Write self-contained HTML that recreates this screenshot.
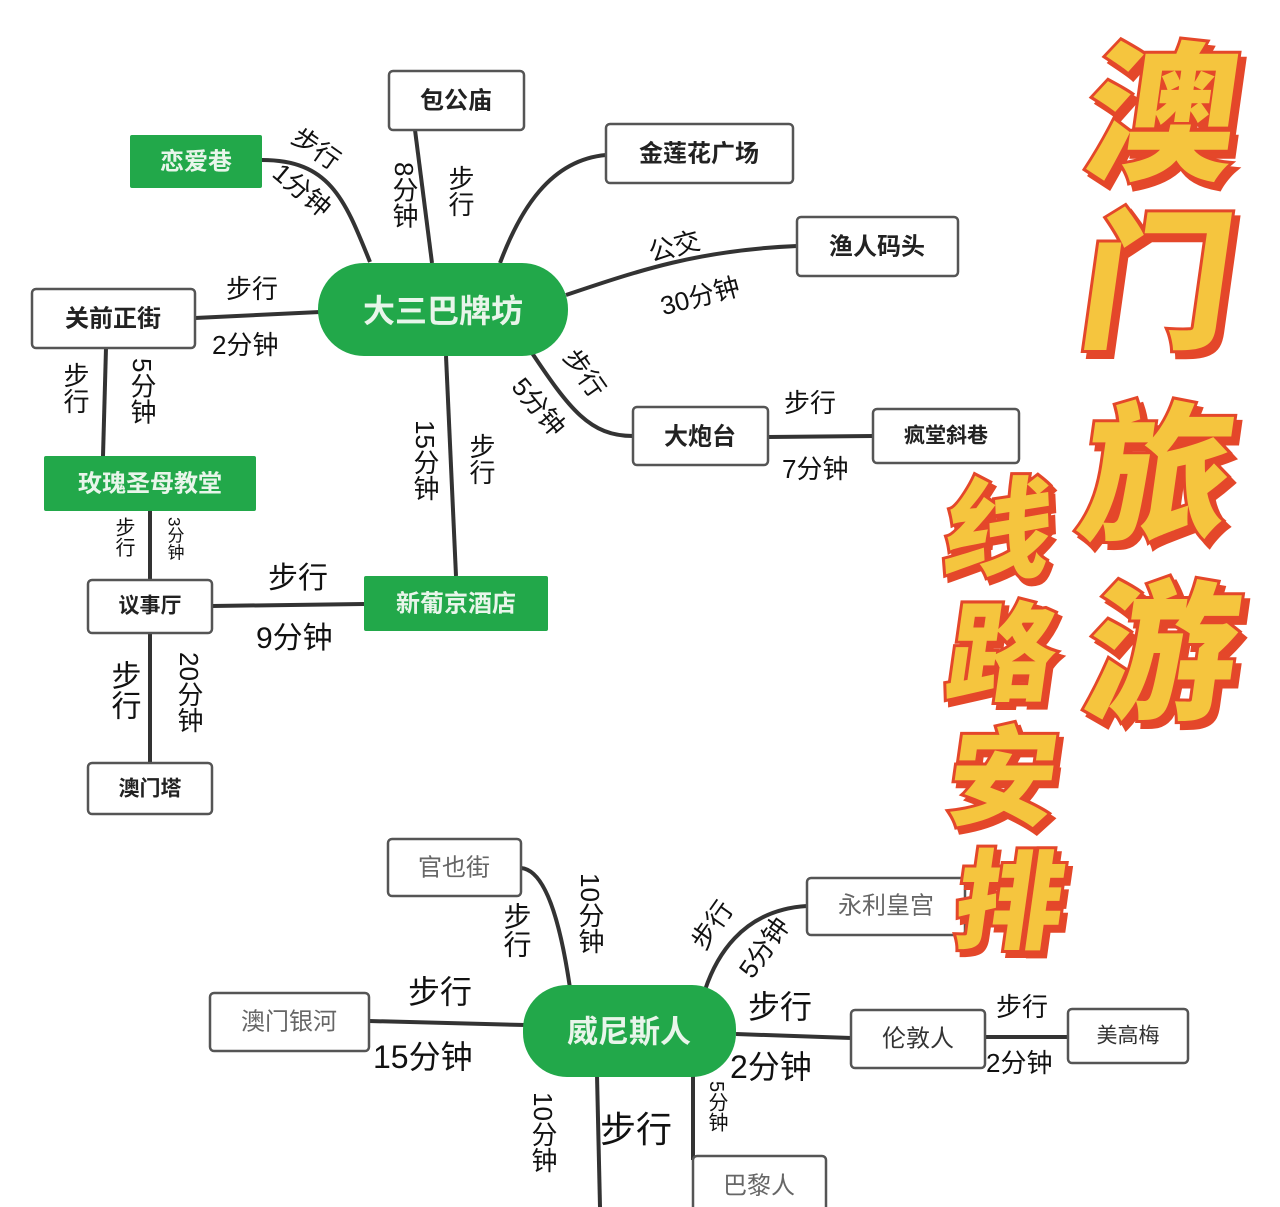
<!DOCTYPE html>
<html><head><meta charset="utf-8"><style>
html,body{margin:0;padding:0;background:#fff}
svg{display:block}
text{font-family:"Liberation Sans","Noto Sans CJK SC",sans-serif}
.b{fill:#fff;stroke:#555;stroke-width:2.5}
.g{fill:#22a84a}
.l{stroke:#333;stroke-width:4;fill:none}
.t{font-size:26px;fill:#111}
.n{font-size:24px;font-weight:bold;fill:#222;text-anchor:middle;dominant-baseline:central}
.w{font-size:24px;font-weight:bold;fill:#e8f5ea;text-anchor:middle;dominant-baseline:central}
.m{font-size:24px;fill:#666;text-anchor:middle;dominant-baseline:central}
.v{writing-mode:vertical-rl}
.big{font-weight:900;fill:#f5c53e;stroke:#e4472a;stroke-width:6;paint-order:stroke;text-anchor:middle}
.sh{font-weight:900;fill:#e4472a;stroke:#e4472a;stroke-width:6;text-anchor:middle}
</style></head><body>
<svg width="1280" height="1207" viewBox="0 0 1280 1207">
<!-- lines top -->
<path class="l" d="M262 160 C330 160 345 200 370 262"/>
<path class="l" d="M415 130 L432 263"/>
<path class="l" d="M606 155 C550 160 520 210 500 263"/>
<path class="l" d="M797 246 C700 250 640 270 566 295"/>
<path class="l" d="M195 318 L320 312"/>
<path class="l" d="M530 350 C570 410 590 436 633 436"/>
<path class="l" d="M768 437 L873 436"/>
<path class="l" d="M446 356 L456 576"/>
<path class="l" d="M106 348 L103 456"/>
<path class="l" d="M150 511 L150 580"/>
<path class="l" d="M212 606 L364 604"/>
<path class="l" d="M150 633 L150 763"/>
<!-- lines bottom -->
<path class="l" d="M521 868 C545 870 560 920 570 988"/>
<path class="l" d="M807 906 C740 910 715 960 705 990"/>
<path class="l" d="M369 1021 L525 1025"/>
<path class="l" d="M736 1034 L851 1038"/>
<path class="l" d="M985 1037 L1068 1037"/>
<path class="l" d="M693 1075 L693 1160"/>
<path class="l" d="M597 1075 L600 1207"/>

<!-- nodes -->
<rect class="b" x="389" y="71" width="135" height="59" rx="4"/><text class="n" x="456" y="101">包公庙</text>
<rect class="g" x="130" y="135" width="132" height="53" rx="2"/><text class="w" x="196" y="162">恋爱巷</text>
<rect class="b" x="606" y="124" width="187" height="59" rx="4"/><text class="n" x="699" y="154">金莲花广场</text>
<rect class="b" x="797" y="217" width="161" height="59" rx="4"/><text class="n" x="877" y="247">渔人码头</text>
<rect class="g" x="318" y="263" width="250" height="93" rx="46"/><text class="w" x="443" y="311" style="font-size:32px">大三巴牌坊</text>
<rect class="b" x="32" y="289" width="163" height="59" rx="4"/><text class="n" x="113" y="319">关前正街</text>
<rect class="b" x="633" y="407" width="135" height="58" rx="4"/><text class="n" x="700" y="437">大炮台</text>
<rect class="b" x="873" y="409" width="146" height="54" rx="4"/><text class="n" x="946" y="436" style="font-size:21px">疯堂斜巷</text>
<rect class="g" x="44" y="456" width="212" height="55" rx="2"/><text class="w" x="150" y="484">玫瑰圣母教堂</text>
<rect class="g" x="364" y="576" width="184" height="55" rx="2"/><text class="w" x="456" y="604">新葡京酒店</text>
<rect class="b" x="88" y="580" width="124" height="53" rx="4"/><text class="n" x="150" y="606" style="font-size:21px">议事厅</text>
<rect class="b" x="88" y="763" width="124" height="51" rx="4"/><text class="n" x="150" y="789" style="font-size:21px">澳门塔</text>

<rect class="b" x="388" y="839" width="133" height="57" rx="4"/><text class="m" x="454" y="868">官也街</text>
<rect class="b" x="807" y="878" width="158" height="57" rx="4"/><text class="m" x="886" y="906">永利皇宫</text>
<rect class="b" x="210" y="993" width="159" height="58" rx="4"/><text class="m" x="289" y="1022">澳门银河</text>
<rect class="g" x="523" y="985" width="213" height="92" rx="44"/><text class="w" x="629" y="1032" style="font-size:31px">威尼斯人</text>
<rect class="b" x="851" y="1010" width="134" height="58" rx="4"/><text class="m" x="918" y="1039" style="fill:#333">伦敦人</text>
<rect class="b" x="1068" y="1009" width="120" height="54" rx="4"/><text class="m" x="1128" y="1036" style="fill:#333;font-size:21px">美高梅</text>
<rect class="b" x="693" y="1156" width="133" height="60" rx="4"/><text class="m" x="759" y="1186">巴黎人</text>

<!-- labels top -->
<text class="t" x="290" y="160" transform="rotate(35 320 150)">步行</text>
<text class="t" x="262" y="200" transform="rotate(40 300 200)">1分钟</text>
<text class="t v" x="404" y="162">8分钟</text>
<text class="t v" x="460" y="165">步行</text>
<text class="t" x="648" y="255" transform="rotate(-15 676 245)">公交</text>
<text class="t" x="658" y="305" transform="rotate(-15 700 290)">30分钟</text>
<text class="t" x="226" y="298">步行</text>
<text class="t" x="212" y="354">2分钟</text>
<text class="t" x="556" y="387" transform="rotate(55 588 378)">步行</text>
<text class="t" x="503" y="421" transform="rotate(50 543 412)">5分钟</text>
<text class="t" x="784" y="412">步行</text>
<text class="t" x="782" y="478">7分钟</text>
<text class="t v" x="75" y="362">步行</text>
<text class="t v" x="142" y="358">5分钟</text>
<text class="t v" x="425" y="420">15分钟</text>
<text class="t v" x="481" y="433">步行</text>
<text class="t v" x="123" y="517" style="font-size:20px">步行</text>
<text class="t v" x="174" y="517" style="font-size:17px">3分钟</text>
<text class="t" x="268" y="588" style="font-size:30px">步行</text>
<text class="t" x="256" y="648" style="font-size:30px">9分钟</text>
<text class="t v" x="123" y="660" style="font-size:30px">步行</text>
<text class="t v" x="189" y="652">20分钟</text>
<!-- labels bottom -->
<text class="t v" x="516" y="902" style="font-size:28px">步行</text>
<text class="t v" x="590" y="873">10分钟</text>
<text class="t" x="686" y="934" transform="rotate(-55 712 925)">步行</text>
<text class="t" x="728" y="951" transform="rotate(-55 768 942)">5分钟</text>
<text class="t" x="748" y="1018" style="font-size:32px">步行</text>
<text class="t" x="730" y="1078" style="font-size:32px">2分钟</text>
<text class="t" x="408" y="1003" style="font-size:32px">步行</text>
<text class="t" x="373" y="1068" style="font-size:32px">15分钟</text>
<text class="t" x="996" y="1016">步行</text>
<text class="t" x="986" y="1072">2分钟</text>
<text class="t v" x="543" y="1092">10分钟</text>
<text class="t" x="600" y="1142" style="font-size:36px">步行</text>
<text class="t v" x="716" y="1081" style="font-size:20px">5分钟</text>

<!-- big title -->
<g font-size="150">
<g transform="translate(1155,168) skewX(-8)"><text class="sh" x="6" y="6">澳</text><text class="big">澳</text></g>
<g transform="translate(1150,336) skewX(-8)"><text class="sh" x="6" y="6">门</text><text class="big">门</text></g>
<g transform="translate(1150,528) skewX(-8)"><text class="sh" x="6" y="6">旅</text><text class="big">旅</text></g>
<g transform="translate(1155,707) skewX(-8)"><text class="sh" x="6" y="6">游</text><text class="big">游</text></g>
</g>
<g font-size="108">
<g transform="translate(993,568) skewX(-8)"><text class="sh" x="5" y="5">线</text><text class="big">线</text></g>
<g transform="translate(997,692) skewX(-8)"><text class="sh" x="5" y="5">路</text><text class="big">路</text></g>
<g transform="translate(998,816) skewX(-8)"><text class="sh" x="5" y="5">安</text><text class="big">安</text></g>
<g transform="translate(1005,940) skewX(-8)"><text class="sh" x="5" y="5">排</text><text class="big">排</text></g>
</g>
</svg>
</body></html>
